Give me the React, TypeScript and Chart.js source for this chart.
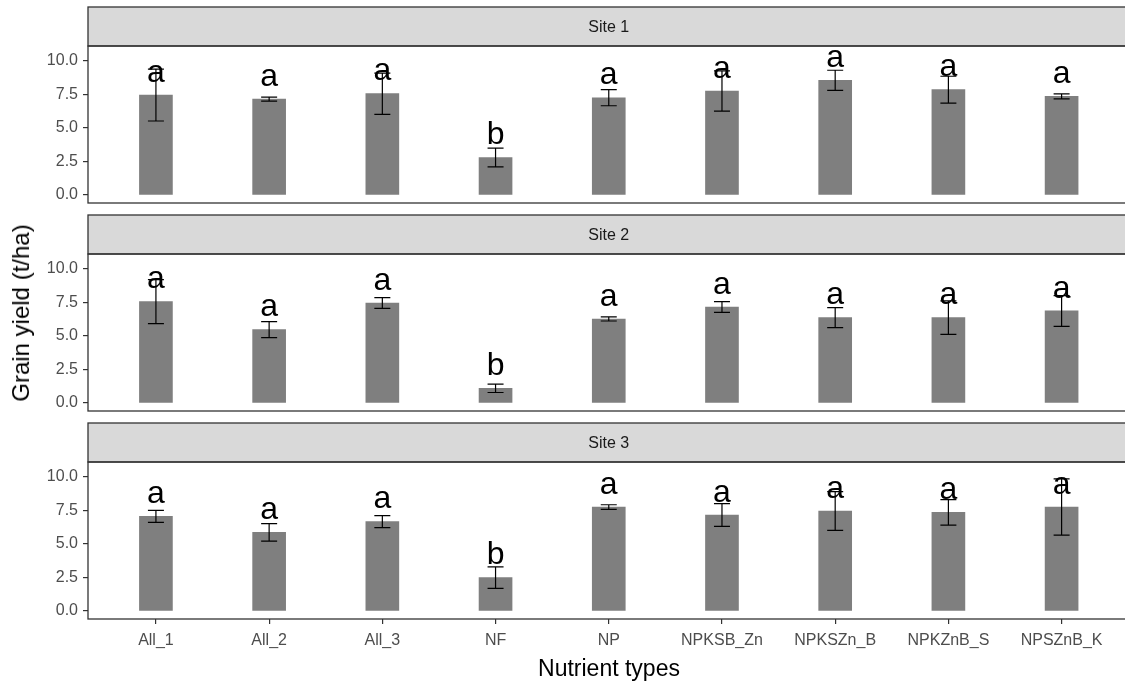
import React, { useEffect, useRef } from 'react';
import { Chart, registerables } from 'chart.js';

Chart.register(...registerables);

const categories = ['All_1', 'All_2', 'All_3', 'NF', 'NP', 'NPKSB_Zn', 'NPKSZn_B', 'NPKZnB_S', 'NPSZnB_K'];
const siteNames = ['Site 1', 'Site 2', 'Site 3'];

const site1Mean = [7.46, 7.16, 7.56, 2.79, 7.26, 7.76, 8.56, 7.86, 7.36];
const site1Se = [1.94, 0.15, 1.54, 0.7, 0.6, 1.5, 0.75, 1.0, 0.18];
const site1Letters = ['a', 'a', 'a', 'b', 'a', 'a', 'a', 'a', 'a'];

const site2Mean = [7.56, 5.47, 7.46, 1.09, 6.27, 7.16, 6.37, 6.37, 6.87];
const site2Se = [1.64, 0.6, 0.4, 0.31, 0.15, 0.4, 0.75, 1.25, 1.15];
const site2Letters = ['a', 'a', 'a', 'b', 'a', 'a', 'a', 'a', 'a'];

const site3Mean = [7.06, 5.87, 6.67, 2.49, 7.76, 7.16, 7.46, 7.36, 7.76];
const site3Se = [0.45, 0.65, 0.45, 0.8, 0.17, 0.85, 1.45, 0.95, 2.1];
const site3Letters = ['a', 'a', 'a', 'b', 'a', 'a', 'a', 'a', 'a'];

const yTicks = [0, 2.5, 5, 7.5, 10];

const FONT = '"Liberation Sans", Arial, sans-serif';
const W = 1125;

type PanelProps = {
  name: string;
  mean: number[];
  se: number[];
  letters: string[];
  showX: boolean;
  top: number;
  height: number;
};

function Panel({ name, mean, se, letters, showX, top, height }: PanelProps) {
  const ref = useRef<HTMLCanvasElement>(null);
  useEffect(() => {
    const facetPlugin = {
      id: 'facet',
      beforeDraw(chart: any) {
        const { ctx, chartArea } = chart;
        const xs = chart.scales.x;
        const right = xs.getPixelForValue(8.6);
        const stripH = 39;
        ctx.save();
        ctx.fillStyle = '#d9d9d9';
        ctx.fillRect(chartArea.left, chartArea.top - stripH, right - chartArea.left, stripH);
        ctx.strokeStyle = '#333333';
        ctx.lineWidth = 1.3;
        ctx.strokeRect(chartArea.left, chartArea.top - stripH, right - chartArea.left, stripH);
        ctx.fillStyle = '#1a1a1a';
        ctx.font = `16px ${FONT}`;
        ctx.textAlign = 'center';
        ctx.textBaseline = 'middle';
        ctx.fillText(name, (chartArea.left + right) / 2, chartArea.top - stripH / 2 + 1);
        ctx.restore();
      },
      afterDatasetsDraw(chart: any) {
        const { ctx, chartArea } = chart;
        const xs = chart.scales.x;
        const ys = chart.scales.y;
        const right = xs.getPixelForValue(8.6);
        ctx.save();
        ctx.strokeStyle = '#000000';
        ctx.lineWidth = 1.2;
        const half = 8;
        mean.forEach((m, i) => {
          const x = xs.getPixelForValue(i);
          const yHi = ys.getPixelForValue(m + se[i]);
          const yLo = ys.getPixelForValue(m - se[i]);
          ctx.beginPath();
          ctx.moveTo(x, yHi);
          ctx.lineTo(x, yLo);
          ctx.moveTo(x - half, yHi);
          ctx.lineTo(x + half, yHi);
          ctx.moveTo(x - half, yLo);
          ctx.lineTo(x + half, yLo);
          ctx.stroke();
        });
        ctx.fillStyle = '#000000';
        ctx.font = `32px ${FONT}`;
        ctx.textAlign = 'center';
        ctx.textBaseline = 'alphabetic';
        mean.forEach((m, i) => {
          ctx.fillText(letters[i], xs.getPixelForValue(i), ys.getPixelForValue(m + 1.0));
        });
        ctx.strokeStyle = '#333333';
        ctx.lineWidth = 1.3;
        ctx.strokeRect(chartArea.left, chartArea.top, right - chartArea.left, chartArea.bottom - chartArea.top);
        ctx.restore();
      },
    };

    const chart = new Chart(ref.current as HTMLCanvasElement, {
      type: 'bar',
      data: {
        datasets: [
          {
            data: mean.map((v, i) => ({ x: i, y: v })),
            backgroundColor: '#7f7f7f',
            borderWidth: 0,
            barThickness: 33,
          } as any,
        ],
      },
      options: {
        animation: false,
        responsive: false,
        layout: { padding: { top: 46, bottom: showX ? 0 : 5, left: 0, right: 0 } },
        plugins: { legend: { display: false }, tooltip: { enabled: false } },
        scales: {
          x: {
            type: 'linear',
            min: -0.6,
            max: 8.56,
            offset: false,
            display: showX,
            afterBuildTicks: (s: any) => {
              s.ticks = categories.map((_, i) => ({ value: i }));
            },
            afterFit: (s: any) => {
              if (showX) s.height = 67;
              s.paddingLeft = 0;
              s.paddingRight = 0;
            },
            grid: { offset: false, drawOnChartArea: false, drawTicks: true, tickLength: 5, color: '#333333', lineWidth: 1.2 },
            border: { display: false },
            ticks: {
              callback: (v: any) => categories[Math.round(Number(v))],
              font: { family: FONT, size: 16 },
              color: '#4d4d4d',
              padding: 7,
              maxRotation: 0,
              minRotation: 0,
              autoSkip: false,
            },
          },
          y: {
            type: 'linear',
            min: -0.6,
            max: 11.12,
            afterBuildTicks: (s: any) => {
              s.ticks = yTicks.map((v) => ({ value: v }));
            },
            afterFit: (s: any) => {
              s.width = 88;
              s.paddingTop = 0;
              s.paddingBottom = 0;
            },
            grid: { drawOnChartArea: false, drawTicks: true, tickLength: 5, color: '#333333', lineWidth: 1.2 },
            border: { display: false },
            ticks: {
              callback: (v: any) => Number(v).toFixed(1),
              font: { family: FONT, size: 16 },
              color: '#4d4d4d',
              padding: 5,
            },
          },
        },
      } as any,
      plugins: [facetPlugin],
    });
    return () => chart.destroy();
  }, []);

  return (
    <canvas
      ref={ref}
      width={W}
      height={height}
      style={{ position: 'absolute', left: 0, top, width: W, height }}
    />
  );
}

export default function App() {
  return (
    <div
      style={{
        position: 'fixed',
        left: 0,
        top: 0,
        width: W,
        height: 686,
        background: '#ffffff',
        overflow: 'hidden',
        fontFamily: FONT,
      }}
    >
      <Panel name={siteNames[0]} mean={site1Mean} se={site1Se} letters={site1Letters} showX={false} top={0} height={208} />
      <Panel name={siteNames[1]} mean={site2Mean} se={site2Se} letters={site2Letters} showX={false} top={208} height={208} />
      <Panel name={siteNames[2]} mean={site3Mean} se={site3Se} letters={site3Letters} showX={true} top={416} height={270} />
      <div
        style={{
          position: 'absolute',
          left: 21,
          top: 313,
          transform: 'translate(-50%, -50%) rotate(-90deg)',
          whiteSpace: 'nowrap',
          fontSize: 24,
          color: '#000000',
          lineHeight: '26px',
        }}
      >
        Grain yield (t/ha)
      </div>
      <div
        style={{
          position: 'absolute',
          left: 609,
          top: 668,
          transform: 'translate(-50%, -50%)',
          whiteSpace: 'nowrap',
          fontSize: 23,
          color: '#000000',
          lineHeight: '26px',
        }}
      >
        Nutrient types
      </div>
    </div>
  );
}
